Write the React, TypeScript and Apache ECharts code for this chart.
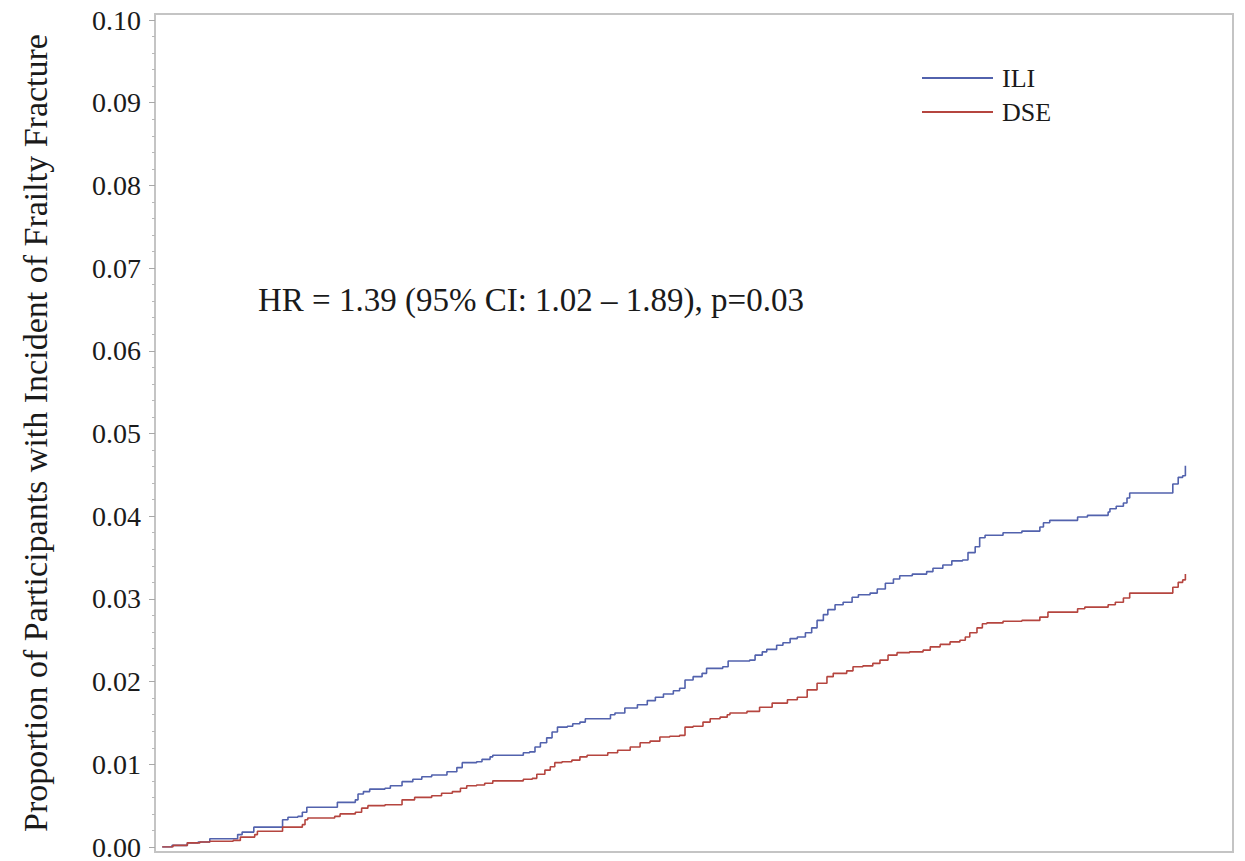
import React, { useEffect, useRef } from "react";
import * as echarts from "echarts";

// Event times (years) and cumulative proportions for each arm
const iliTimes = [0.08,0.19,0.36,0.48,0.61,0.92,0.97,1.10,1.42,1.48,1.59,1.64,1.69,2.03,2.23,2.26,2.32,2.39,2.56,2.62,2.75,2.87,2.97,3.08,3.25,3.36,3.42,3.58,3.64,3.73,3.76,4.10,4.17,4.23,4.29,4.36,4.42,4.48,4.59,4.65,4.73,4.79,5.07,5.12,5.23,5.37,5.48,5.57,5.66,5.77,5.84,5.90,5.99,6.09,6.14,6.32,6.38,6.62,6.68,6.76,6.81,6.92,6.99,7.07,7.15,7.24,7.31,7.37,7.44,7.49,7.57,7.66,7.76,7.83,7.96,8.04,8.13,8.22,8.29,8.43,8.59,8.66,8.77,8.87,8.99,9.05,9.13,9.18,9.24,9.44,9.65,9.85,9.89,9.96,10.27,10.38,10.61,10.63,10.70,10.78,10.82,10.85,11.33,11.39,11.44,11.47];
const iliValues = [0,0.0002,0.0005,0.0006,0.0010,0.0015,0.0018,0.0024,0.0033,0.0036,0.0037,0.0042,0.0048,0.0054,0.0057,0.0064,0.0067,0.0070,0.0071,0.0074,0.0079,0.0082,0.0085,0.0087,0.0091,0.0096,0.0102,0.0103,0.0106,0.0109,0.0111,0.0114,0.0115,0.0121,0.0126,0.0132,0.0139,0.0145,0.0146,0.0149,0.0151,0.0155,0.0160,0.0162,0.0168,0.0172,0.0177,0.0181,0.0185,0.0189,0.0192,0.0202,0.0206,0.0210,0.0216,0.0218,0.0225,0.0226,0.0232,0.0236,0.0239,0.0244,0.0247,0.0252,0.0254,0.0259,0.0265,0.0274,0.0281,0.0287,0.0293,0.0296,0.0302,0.0305,0.0307,0.0312,0.0319,0.0324,0.0328,0.0330,0.0333,0.0337,0.0341,0.0346,0.0347,0.0356,0.0363,0.0374,0.0377,0.0380,0.0382,0.0387,0.0392,0.0395,0.0399,0.0401,0.0405,0.0409,0.0412,0.0416,0.0422,0.0428,0.0439,0.0447,0.0449,0.0461];

const dseTimes = [0.08,0.20,0.36,0.50,0.61,0.87,0.95,1.11,1.14,1.42,1.64,1.67,1.70,2.00,2.06,2.23,2.30,2.37,2.56,2.75,2.89,3.08,3.19,3.31,3.40,3.47,3.58,3.67,3.76,4.10,4.20,4.25,4.34,4.40,4.45,4.53,4.64,4.73,4.81,5.04,5.15,5.29,5.40,5.51,5.62,5.73,5.84,5.90,5.99,6.10,6.18,6.29,6.37,6.40,6.59,6.73,6.87,7.04,7.15,7.26,7.37,7.48,7.55,7.70,7.77,7.88,7.99,8.07,8.16,8.26,8.40,8.55,8.63,8.74,8.85,8.96,9.02,9.07,9.15,9.21,9.26,9.44,9.65,9.85,9.94,10.27,10.35,10.61,10.69,10.78,10.85,11.33,11.39,11.44,11.47];
const dseValues = [0,0.0002,0.0005,0.0006,0.0007,0.0008,0.0012,0.0015,0.0019,0.0024,0.0027,0.0033,0.0035,0.0037,0.0040,0.0042,0.0047,0.0050,0.0051,0.0057,0.0060,0.0062,0.0065,0.0067,0.0071,0.0074,0.0075,0.0077,0.0080,0.0082,0.0083,0.0088,0.0093,0.0097,0.0102,0.0103,0.0105,0.0109,0.0111,0.0114,0.0117,0.0121,0.0126,0.0128,0.0133,0.0134,0.0135,0.0145,0.0146,0.0151,0.0155,0.0157,0.0160,0.0162,0.0164,0.0169,0.0174,0.0178,0.0181,0.0190,0.0198,0.0206,0.0210,0.0213,0.0218,0.0219,0.0222,0.0226,0.0232,0.0235,0.0236,0.0238,0.0242,0.0245,0.0248,0.0250,0.0254,0.0259,0.0265,0.0270,0.0271,0.0273,0.0274,0.0278,0.0284,0.0288,0.0290,0.0293,0.0296,0.0301,0.0307,0.0314,0.0320,0.0323,0.0330];

const seriesNames = ["ILI", "DSE"];
const seriesColors = ["#5262ad", "#b5453f"];
const yTicks = { min: 0, max: 0.1, interval: 0.01 };
const yTitle = "Proportion of Participants with Incident of Frailty Fracture";
const annotation = "HR = 1.39 (95% CI: 1.02 \u2013 1.89), p=0.03";

const FONT = "Liberation Serif";

function stepData(times: number[], values: number[]) {
  const out: number[][] = [];
  for (let i = 0; i < times.length; i++) {
    if (i > 0) out.push([times[i], values[i - 1]]);
    out.push([times[i], values[i]]);
  }
  return out;
}

export default function App() {
  const ref = useRef<HTMLDivElement>(null);
  useEffect(() => {
    if (!ref.current) return;
    const chart = echarts.init(ref.current, undefined, { renderer: "svg" });
    chart.setOption({
      animation: false,
      backgroundColor: "#ffffff",
      textStyle: { fontFamily: FONT },
      grid: { left: 155, right: 12, top: 20, bottom: 14, containLabel: false },
      xAxis: {
        type: "value",
        min: 0,
        max: 12,
        show: false,
      },
      yAxis: {
        type: "value",
        min: yTicks.min,
        max: yTicks.max,
        interval: yTicks.interval,
        axisLine: { show: false },
        splitLine: { show: false },
        axisTick: { show: true, length: 6, lineStyle: { color: "#a8a8a8", width: 1 } },
        minorTick: { show: true, splitNumber: 5, length: 3, lineStyle: { color: "#b8b8b8", width: 1 } },
        axisLabel: {
          margin: 14,
          color: "#1a1a1a",
          fontFamily: FONT,
          fontSize: 28,
          formatter: (v: number) => v.toFixed(2),
        },
      },
      legend: {
        orient: "vertical",
        left: 917,
        top: 60,
        icon: "rect",
        itemWidth: 71,
        itemHeight: 2,
        itemGap: 8,
        textStyle: { fontFamily: FONT, fontSize: 26, color: "#1a1a1a", padding: [0, 0, 0, 4] },
        data: seriesNames,
      },
      graphic: [
        {
          type: "rect",
          shape: { x: 155, y: 14, width: 1078, height: 838 },
          style: { fill: "none", stroke: "#c4c4c4", lineWidth: 2 },
          silent: true,
          z: 0,
        },
        {
          type: "text",
          x: 35,
          y: 433,
          rotation: Math.PI / 2,
          style: {
            text: yTitle,
            font: `34px ${FONT}`,
            fill: "#1a1a1a",
            textAlign: "center",
            textVerticalAlign: "middle",
          },
        },
        {
          type: "text",
          x: 258,
          y: 300,
          style: {
            text: annotation,
            font: `33px ${FONT}`,
            fill: "#1a1a1a",
            textAlign: "left",
            textVerticalAlign: "middle",
          },
        },
      ],
      series: [
        {
          name: seriesNames[0],
          type: "line",
          data: stepData(iliTimes, iliValues),
          symbol: "none",
          color: seriesColors[0],
          lineStyle: { width: 1.6, color: seriesColors[0] },
          z: 3,
        },
        {
          name: seriesNames[1],
          type: "line",
          data: stepData(dseTimes, dseValues),
          symbol: "none",
          color: seriesColors[1],
          lineStyle: { width: 1.6, color: seriesColors[1] },
          z: 3,
        },
      ],
    });
    return () => chart.dispose();
  }, []);
  return (
    <div
      ref={ref}
      style={{ position: "fixed", left: 0, top: 0, width: 1245, height: 861, background: "#fff" }}
    />
  );
}
